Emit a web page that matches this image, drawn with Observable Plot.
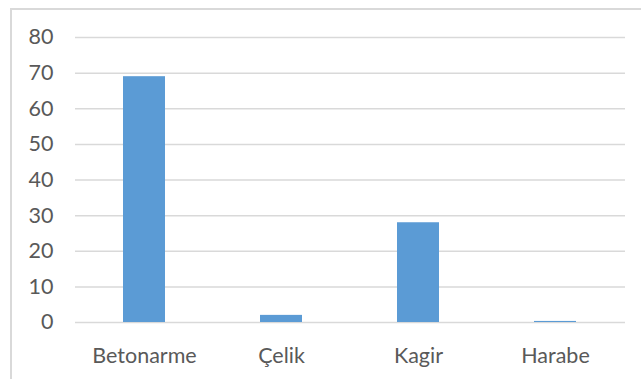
<!DOCTYPE html>
<html>
<head>
<meta charset="utf-8">
<script src="https://cdn.jsdelivr.net/npm/d3@7"></script>
<script src="https://cdn.jsdelivr.net/npm/@observablehq/plot@0.6"></script>
<style>
  html, body { margin: 0; padding: 0; background: #fff; }
  #wrap { position: relative; width: 641px; height: 379px; overflow: hidden; }
  #frame { position: absolute; left: 10px; top: 8px; width: 640px; height: 380px;
           border-left: 2px solid #d9d9d9; border-top: 2px solid #d9d9d9; pointer-events: none; }
</style>
</head>
<body>
<div id="wrap"><div id="frame"></div></div>
<script>
const categories = ["Betonarme", "Çelik", "Kagir", "Harabe"];
const values = [69, 2, 28, 0.3];
const yTicks = [0, 10, 20, 30, 40, 50, 60, 70, 80];

const data = categories.map((c, i) => ({category: c, value: values[i]}));

const chart = Plot.plot({
  width: 641,
  height: 379,
  marginLeft: 75,
  marginRight: 16,
  marginTop: 37,
  marginBottom: 57,
  style: {fontFamily: "Lato, sans-serif", fontSize: "21.5px", color: "#595959", background: "transparent"},
  x: {domain: categories, paddingInner: 0.69, paddingOuter: 0.345, label: null},
  y: {domain: [0, 80], label: null},
  marks: [
    Plot.gridY(yTicks, {stroke: "#d9d9d9", strokeOpacity: 1, strokeWidth: 1.5}),
    Plot.barY(data, {x: "category", y: "value", fill: "#5b9bd5"}),
    Plot.axisY(yTicks, {tickSize: 0, tickPadding: 22, label: null, fill: "#595959"}),
    Plot.axisX({tickSize: 0, tickPadding: 25, label: null, fill: "#595959"})
  ]
});
chart.style.position = "absolute";
chart.style.left = "0";
chart.style.top = "0";
document.getElementById("wrap").prepend(chart);
</script>
</body>
</html>
